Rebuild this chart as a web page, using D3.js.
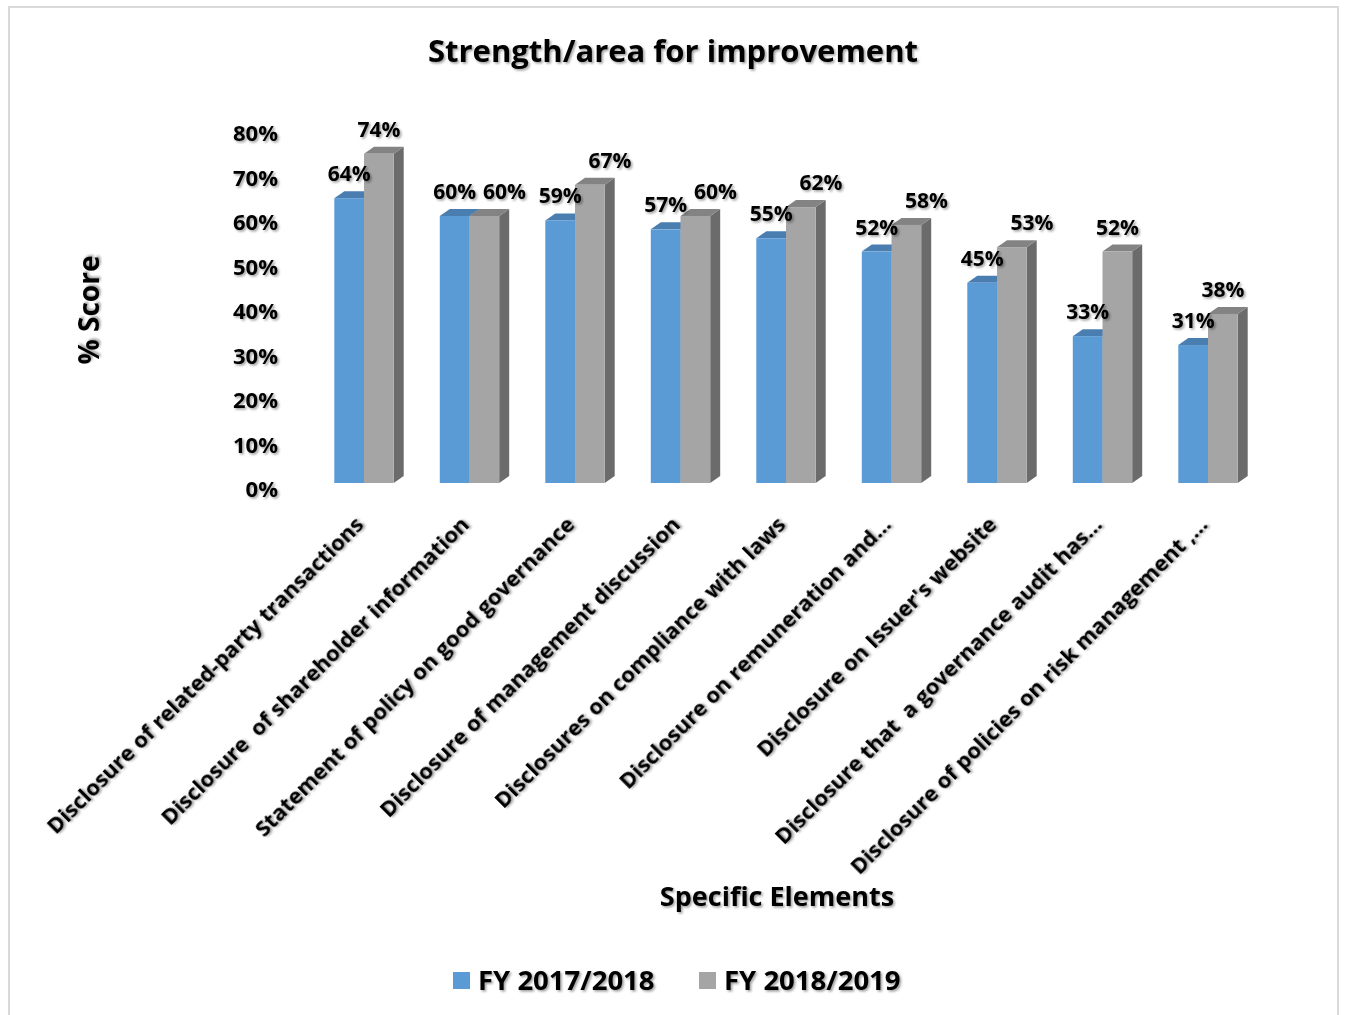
<!DOCTYPE html>
<html>
<head>
<meta charset="utf-8">
<script src="https://cdn.jsdelivr.net/npm/d3@7"></script>
<style>
  html, body { margin: 0; padding: 0; background: #fff; }
  svg { display: block; }
  text { font-family: "Open Sans", Lato, sans-serif; font-weight: 700; fill: #000; }
</style>
</head>
<body>
<svg id="chart" width="1345" height="1015"></svg>
<script>
// ---- data ----
const categories = [
  "Disclosure of related-party transactions",
  "Disclosure  of shareholder information",
  "Statement of policy on good governance",
  "Disclosure of management discussion",
  "Disclosures on compliance with laws",
  "Disclosure on remuneration and...",
  "Disclosure on Issuer's website",
  "Disclosure that  a governance audit has...",
  "Disclosure of policies on risk management ,..."
];
const seriesNames = ["FY 2017/2018", "FY 2018/2019"];
const fy2017 = [64, 60, 59, 57, 55, 52, 45, 33, 31];
const fy2018 = [74, 60, 67, 60, 62, 58, 53, 52, 38];
const yTicks = [0, 10, 20, 30, 40, 50, 60, 70, 80];
const titleText = "Strength/area for improvement";
const yTitle = "% Score";
const xTitle = "Specific Elements";

// ---- styling ----
const colors = {
  "FY 2017/2018": { front: "#5b9bd5", top: "#4a7eb0", side: "#3f6d99" },
  "FY 2018/2019": { front: "#a5a5a5", top: "#838383", side: "#6b6b6b" }
};
const depth = { dx: 10, dy: 7 };

const svg = d3.select("#chart");
const defs = svg.append("defs");
const f = defs.append("filter").attr("id", "shadow").attr("x", "-20%").attr("y", "-20%").attr("width", "140%").attr("height", "140%");
f.append("feDropShadow").attr("dx", 1.6).attr("dy", 1.6).attr("stdDeviation", 1.1)
  .attr("flood-color", "#000").attr("flood-opacity", 0.38);

// outer border
svg.append("rect").attr("x", 9).attr("y", 7).attr("width", 1329).attr("height", 1015)
  .attr("fill", "none").attr("stroke", "#d9d9d9").attr("stroke-width", 2);

// scales
const x = d3.scaleBand().domain(categories).range([311.25, 1260.75]).padding(0);
const barW = 29.7;
const x1 = d3.scaleBand().domain(seriesNames)
  .range([x.bandwidth() / 2 - barW, x.bandwidth() / 2 + barW]).padding(0);
const y = d3.scaleLinear().domain([0, 80]).range([483, 127]);

// title
svg.append("text").attr("x", 673).attr("y", 62).attr("text-anchor", "middle")
  .attr("font-size", 31).attr("filter", "url(#shadow)").text(titleText);

// y axis labels (no line)
const yAxis = d3.axisLeft(y).tickValues(yTicks).tickFormat(d => d + "%").tickSize(0).tickPadding(0);
const yg = svg.append("g").attr("transform", "translate(278,6.5)").call(yAxis);
yg.select(".domain").remove();
yg.selectAll("text").attr("font-size", 22).attr("font-family", "'Open Sans', sans-serif")
  .attr("font-weight", 700).attr("fill", "#000").attr("filter", "url(#shadow)");

// bars
const data = categories.map((c, i) => ({
  cat: c,
  vals: [
    { s: seriesNames[0], v: fy2017[i] },
    { s: seriesNames[1], v: fy2018[i] }
  ]
}));

const groups = svg.append("g").selectAll("g.grp").data(data).join("g")
  .attr("class", "grp").attr("transform", d => `translate(${x(d.cat)},0)`);

groups.each(function (d) {
  const g = d3.select(this);
  d.vals.forEach(b => {
    const x0 = x1(b.s), xr = x0 + x1.bandwidth();
    const yt = y(b.v), yb = y(0);
    const c = colors[b.s];
    g.append("path")
      .attr("d", `M${xr},${yb} L${xr + depth.dx},${yb - depth.dy} L${xr + depth.dx},${yt - depth.dy} L${xr},${yt} Z`)
      .attr("fill", c.side);
    g.append("path")
      .attr("d", `M${x0},${yt} L${x0 + depth.dx},${yt - depth.dy} L${xr + depth.dx},${yt - depth.dy} L${xr},${yt} Z`)
      .attr("fill", c.top);
    g.append("rect").attr("x", x0).attr("y", yt).attr("width", x1.bandwidth()).attr("height", yb - yt)
      .attr("fill", c.front);
  });
});

// data labels
groups.each(function (d) {
  const g = d3.select(this);
  const diff = d.vals[1].v - d.vals[0].v;
  d.vals.forEach((b, k) => {
    let cx = x1(b.s) + x1.bandwidth() / 2;
    if (k === 1 && diff < 10 && d.vals[0].v >= 40) cx += 20;
    g.append("text").attr("x", cx).attr("y", y(b.v) - depth.dy - 10)
      .attr("text-anchor", "middle").attr("font-size", 21)
      .attr("filter", "url(#shadow)").text(b.v + "%");
  });
});

// category labels
svg.append("g").selectAll("text").data(categories).join("text")
  .attr("transform", c => `translate(${x(c) + x.bandwidth() / 2 + 1},526) rotate(-45)`)
  .attr("text-anchor", "end").attr("font-size", 22).attr("filter", "url(#shadow)")
  .attr("xml:space", "preserve").style("white-space", "pre")
  .text(c => c);

// axis titles
svg.append("text").attr("transform", "translate(99,310) rotate(-90)").attr("text-anchor", "middle")
  .attr("font-size", 28).attr("filter", "url(#shadow)").text(yTitle);
svg.append("text").attr("x", 777).attr("y", 906).attr("text-anchor", "middle")
  .attr("font-size", 27).attr("filter", "url(#shadow)").text(xTitle);

// legend
const legend = svg.append("g");
const legX = [453, 699];
seriesNames.forEach((s, i) => {
  legend.append("rect").attr("x", legX[i]).attr("y", 972).attr("width", 17).attr("height", 17)
    .attr("fill", colors[s].front);
  legend.append("text").attr("x", legX[i] + 25).attr("y", 990).attr("font-size", 27.5)
    .attr("filter", "url(#shadow)").text(s);
});
</script>
</body>
</html>
